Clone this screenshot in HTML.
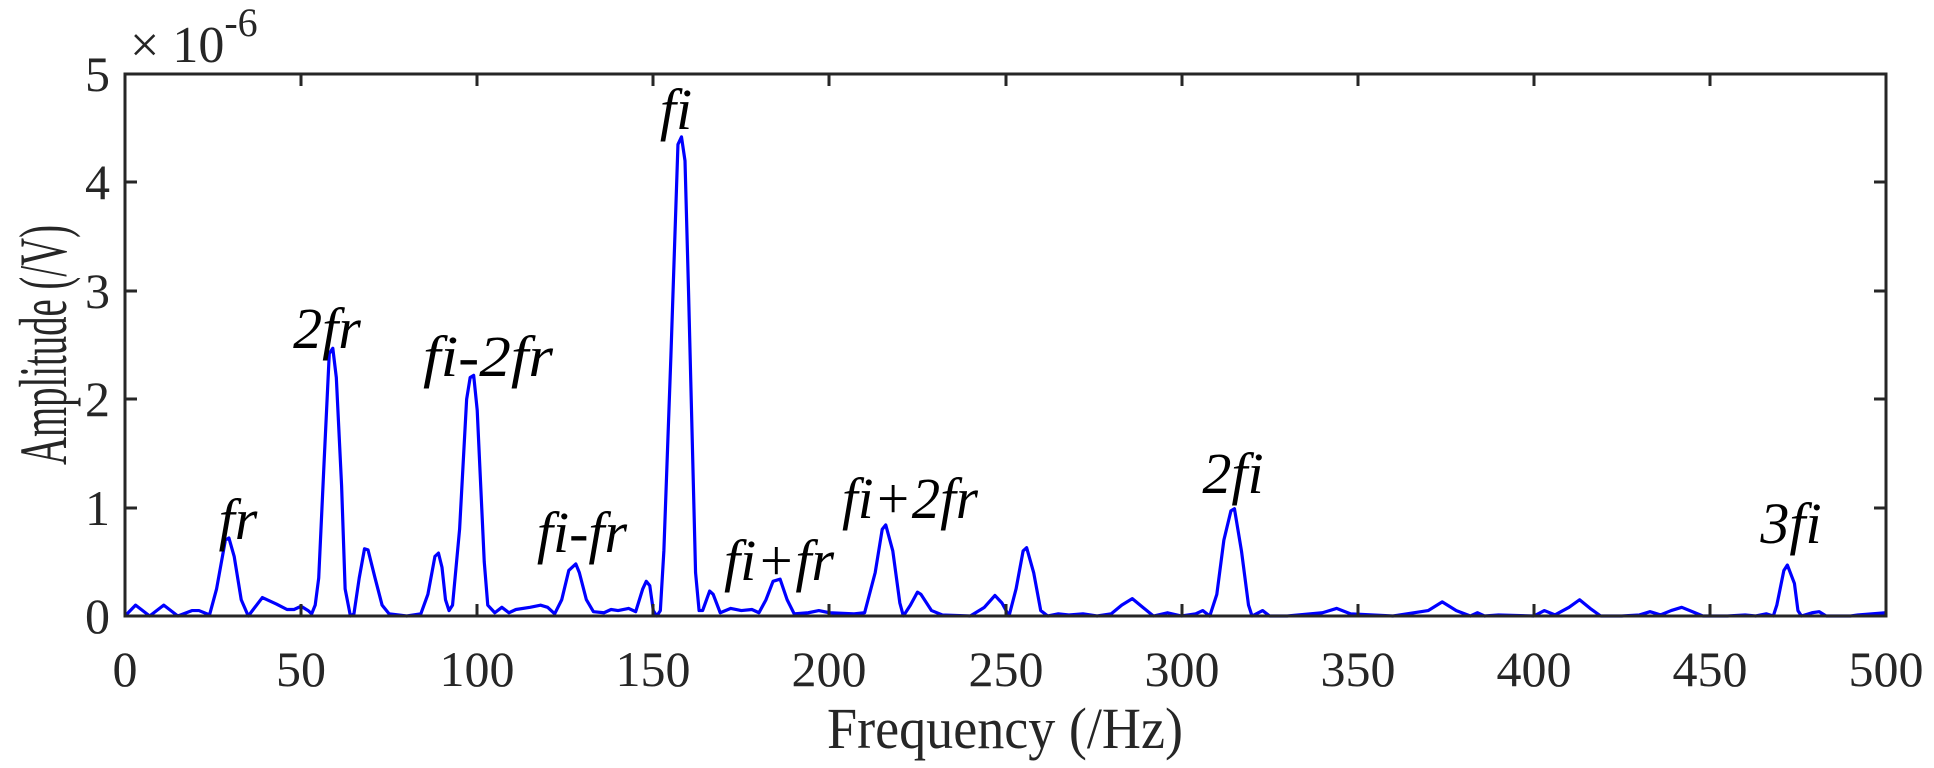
<!DOCTYPE html>
<html><head><meta charset="utf-8"><style>html,body{margin:0;padding:0;background:#fff}svg{display:block}</style></head>
<body>
<svg width="1934" height="768" viewBox="0 0 1934 768" xmlns="http://www.w3.org/2000/svg" font-family="Liberation Serif, serif" fill="#262626">
<g transform="translate(125,616) scale(3.522,-108.4)">
<polyline fill="none" stroke="#0000ff" stroke-width="3.2" vector-effect="non-scaling-stroke" stroke-linejoin="round" points="0,0 3,0.1 7,0 11,0.1 15,0 19,0.05 21,0.05 24,0.01 26,0.25 28.5,0.7 29.5,0.72 31,0.55 33,0.15 35,0 39,0.17 43,0.11 46,0.06 48,0.06 50,0.09 52,0.05 53,0.02 54,0.1 55,0.35 56.5,1.4 58,2.42 59,2.47 60,2.2 61.5,1.2 62.5,0.25 64,0 65,0.02 66.5,0.35 68,0.62 69,0.61 71,0.35 73,0.1 75,0.02 80,0 84,0.02 86,0.2 88,0.55 89,0.58 90,0.45 91,0.15 92,0.05 93,0.1 95,0.8 97,2.0 98,2.2 99,2.22 100,1.9 102,0.5 103,0.1 105,0.03 107,0.08 109,0.03 111,0.06 115,0.08 118,0.1 120,0.08 122,0.02 124,0.15 126,0.42 128,0.48 129,0.4 131,0.15 133,0.04 136,0.03 138,0.06 140,0.05 143,0.07 145,0.04 147,0.25 148,0.32 149,0.28 150,0.05 151,0 152,0.05 153,0.6 155,2.4 157,4.35 158,4.42 159,4.2 160,3.0 162,0.4 163,0.05 164,0.05 166,0.23 167,0.2 169,0.03 172,0.07 175,0.05 178,0.06 180,0.03 182,0.15 184,0.32 186,0.34 188,0.15 190,0.02 194,0.03 197,0.05 200,0.03 207,0.02 210,0.03 213,0.4 215,0.8 216,0.84 218,0.6 220,0.12 221,0 223,0.1 225,0.22 226,0.2 229,0.05 232,0.01 240,0 244,0.08 247,0.19 249,0.12 251,0 253,0.25 255,0.6 256,0.63 258,0.4 260,0.05 262,0 265,0.02 268,0.01 272,0.02 276,0 280,0.02 283,0.1 286,0.16 289,0.08 292,0 296,0.03 300,0 304,0.02 306,0.05 308,0 310,0.2 312,0.7 314,0.97 315,0.99 317,0.6 319,0.1 320,0 323,0.05 325,0 330,0 340,0.03 344,0.07 348,0.02 360,0 370,0.05 374,0.13 378,0.05 382,0 384,0.03 386,0 390,0.01 400,0 403,0.05 406,0.01 410,0.08 413,0.15 416,0.07 419,0 425,0 430,0.01 433,0.04 436,0.01 439,0.05 442,0.08 445,0.04 448,0 455,0 460,0.01 463,0 466,0.02 468,0 469,0.1 471,0.42 472,0.47 474,0.3 475,0.05 476,0 479,0.03 481,0.04 483,0 490,0 492,0.01 500,0.03"/>
</g>
<g stroke="#262626" stroke-width="3" fill="none">
<rect x="125" y="74" width="1761" height="542"/>
<path d="M301,616v-12M477,616v-12M653,616v-12M829,616v-12M1006,616v-12M1182,616v-12M1358,616v-12M1534,616v-12M1710,616v-12
M301,74v12M477,74v12M653,74v12M829,74v12M1006,74v12M1182,74v12M1358,74v12M1534,74v12M1710,74v12
M125,508h12M125,399h12M125,291h12M125,182h12M1886,508h-12M1886,399h-12M1886,291h-12M1886,182h-12"/>
</g>
<g font-size="50" text-anchor="middle">
<text x="125" y="686">0</text><text x="301" y="686">50</text><text x="477" y="686">100</text><text x="653" y="686">150</text><text x="829" y="686">200</text><text x="1006" y="686">250</text><text x="1182" y="686">300</text><text x="1358" y="686">350</text><text x="1534" y="686">400</text><text x="1710" y="686">450</text><text x="1886" y="686">500</text>
</g>
<g font-size="50" text-anchor="end">
<text x="110" y="633">0</text><text x="110" y="525">1</text><text x="110" y="416">2</text><text x="110" y="308">3</text><text x="110" y="199">4</text><text x="110" y="91">5</text>
</g>
<text x="130" y="62" font-size="52">× 10<tspan font-size="40" dy="-26">-6</tspan></text>
<text x="1005" y="748" font-size="58" text-anchor="middle" textLength="356" lengthAdjust="spacingAndGlyphs">Frequency (/Hz)</text>
<text transform="translate(66,345) rotate(-90)" font-size="68" text-anchor="middle" textLength="240" lengthAdjust="spacingAndGlyphs">Amplitude (/V)</text>
<g font-size="58" font-style="italic" text-anchor="middle" fill="#000">
<text x="238" y="539">fr</text>
<text x="327" y="348">2fr</text>
<text x="488" y="376" textLength="130" lengthAdjust="spacingAndGlyphs">fi-2fr</text>
<text x="582" y="552">fi-fr</text>
<text x="676" y="129">fi</text>
<text x="779" y="580">fi+fr</text>
<text x="910" y="518" textLength="136" lengthAdjust="spacingAndGlyphs">fi+2fr</text>
<text x="1233" y="493">2fi</text>
<text x="1791" y="543">3fi</text>
</g>
</svg>
</body></html>
